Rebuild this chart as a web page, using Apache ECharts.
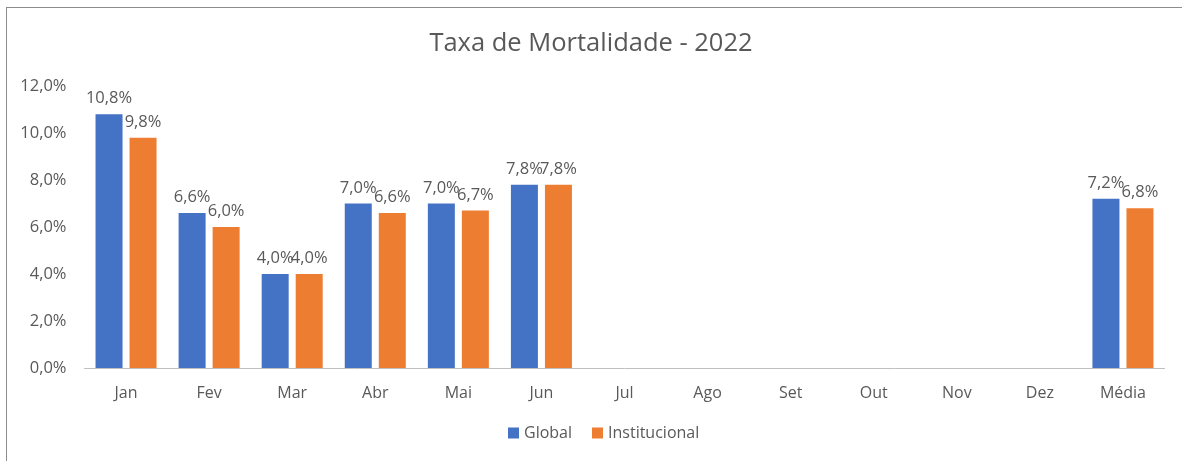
<!DOCTYPE html>
<html>
<head>
	<meta charset="UTF-8">
	<title>Taxa de Mortalidade - 2022</title>
	<script src="https://cdn.jsdelivr.net/npm/echarts@6/dist/echarts.min.js"></script>
	<style>
		html, body { margin: 0; padding: 0; background: #fff; }
	</style>
</head>
<body>
<div id="main" style="width: 1182px;height:461px;"></div>
<script type="text/javascript">
	// dados
	var meses = ['Jan', 'Fev', 'Mar', 'Abr', 'Mai', 'Jun', 'Jul', 'Ago', 'Set', 'Out', 'Nov', 'Dez', 'Média'];
	var global = [10.8, 6.6, 4.0, 7.0, 7.0, 7.8, null, null, null, null, null, null, 7.2];
	var institucional = [9.8, 6.0, 4.0, 6.6, 6.7, 7.8, null, null, null, null, null, null, 6.8];

	var fonte = 'Open Sans';
	var cinza = '#595959';

	function pct(v) {
		return v.toFixed(1).replace('.', ',') + '%';
	}

	var myChart = echarts.init(document.getElementById('main'));

	var option = {
		animation: false,
		textStyle: { fontFamily: fonte },
		title: {
			text: 'Taxa de Mortalidade - 2022',
			left: 'center',
			top: 26,
			textStyle: { color: cinza, fontSize: 25.5, fontWeight: 'normal', fontFamily: fonte }
		},
		legend: {
			bottom: 15,
			left: 503,
			itemWidth: 11,
			itemHeight: 11,
			itemGap: 20,
			icon: 'rect',
			textStyle: { color: cinza, fontSize: 16, fontFamily: fonte },
			data: ['Global', 'Institucional']
		},
		grid: {
			left: 84.5,
			right: 17.5,
			top: 86,
			bottom: 93
		},
		graphic: [
			{ type: 'line', shape: { x1: 6.5, y1: 7, x2: 6.5, y2: 461 }, style: { stroke: '#8c8c8c', lineWidth: 1 } },
			{ type: 'line', shape: { x1: 6, y1: 7.5, x2: 1182, y2: 7.5 }, style: { stroke: '#8c8c8c', lineWidth: 1 } }
		],
		xAxis: {
			type: 'category',
			data: meses,
			axisTick: { show: false },
			axisLine: { lineStyle: { color: '#bfbfbf' } },
			axisLabel: { color: cinza, fontSize: 16, margin: 17, fontFamily: fonte }
		},
		yAxis: {
			type: 'value',
			min: 0,
			max: 12,
			interval: 2,
			splitLine: { show: false },
			axisLine: { show: false },
			axisTick: { show: false },
			axisLabel: { color: cinza, fontSize: 16.5, margin: 18, fontFamily: fonte, formatter: pct }
		},
		series: [
			{
				name: 'Global',
				type: 'bar',
				data: global,
				barWidth: 27,
				barGap: '26%',
				itemStyle: { color: '#4472C4' },
				label: {
					show: true,
					position: 'top',
					distance: 7,
					color: cinza,
					fontSize: 16.5,
					fontFamily: fonte,
					formatter: function (p) { return pct(p.value); }
				}
			},
			{
				name: 'Institucional',
				type: 'bar',
				data: institucional,
				barWidth: 27,
				barGap: '26%',
				itemStyle: { color: '#ED7D31' },
				label: {
					show: true,
					position: 'top',
					distance: 7,
					color: cinza,
					fontSize: 16.5,
					fontFamily: fonte,
					formatter: function (p) { return pct(p.value); }
				}
			}
		]
	};

	myChart.setOption(option);
</script>
</body>
</html>
